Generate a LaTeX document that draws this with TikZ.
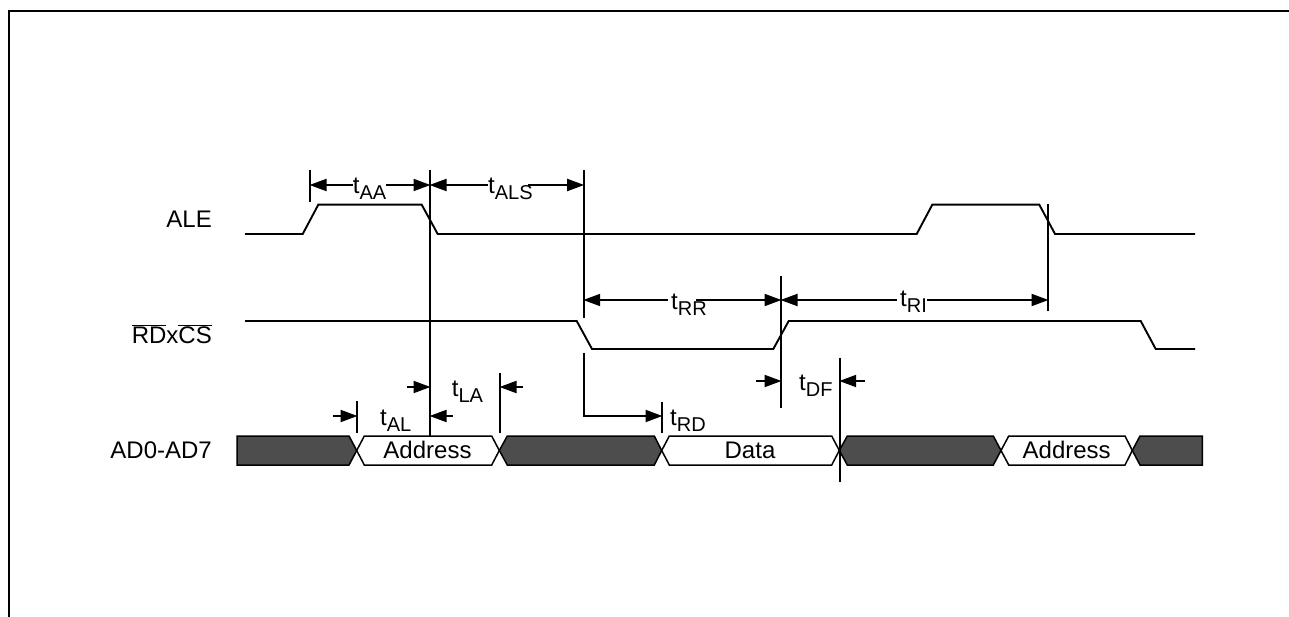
\documentclass[tikz,border=0pt]{standalone}
\usepackage{fontspec}
\setmainfont{Liberation Sans}
\usetikzlibrary{arrows.meta}
\definecolor{busdark}{RGB}{77, 77, 77}
\newcommand{\tsub}[1]{t\raisebox{-6pt}{\fontsize{20}{20}\selectfont #1}}
\tikzset{
    font=\fontsize{24}{24}\selectfont,
    signal/.style={line width=1.9pt, line join=miter},
    guide/.style={line width=2pt},
    arrow/.style={-{Triangle[length=17pt,width=12pt]}, line width=1.9pt, shorten >=-0.5pt},
    timing/.style={inner sep=0pt, anchor=base west},
    signame/.style={inner sep=0pt, anchor=base east},
    busname/.style={inner sep=0pt, anchor=base},
    busdata/.style={draw=black, fill=white, line width=1.5pt},
    businvalid/.style={draw=black, fill=busdark, line width=1.5pt}
}
\begin{document}
\begin{tikzpicture}[x=1pt, y=-1pt]
    \useasboundingbox (0,0) rectangle (1289,617);

    % frame
    \draw [line width=2.4pt] (9,617) -- (9,11) -- (1289,11);

    % signal names
    \node (ale)  [signame] at (212,228) {ALE};
    \node (rdcs) [signame] at (212,343) {$\overline{\mbox{RD}}$x$\overline{\mbox{CS}}$};
    \node (ad)   [signame] at (212,458) {AD0-AD7};

    % waveforms
    \draw [signal] (245,234) -- (302.7,234) -- (318.3,204.7) -- (421.7,204.7) -- (437.7,234)
        -- (916.7,234) -- (932.3,204.7) -- (1039.3,204.7) -- (1055,234) -- (1195,234);
    \draw [signal] (245,321) -- (576.7,321) -- (592,349) -- (773.3,349) -- (788.7,321)
        -- (1140.7,321) -- (1155.7,349) -- (1195,349);

    % bus
    \draw [businvalid] (237,436) -- (349,436) -- (356.7,450.5) -- (349,465) -- (237,465) -- cycle;
    \draw [busdata] (356.7,450.5) -- (364.3,436) -- (491.7,436) -- (499.3,450.5) -- (491.7,465) -- (364.3,465) -- cycle;
    \draw [businvalid] (499.3,450.5) -- (507.3,436) -- (654.3,436) -- (661.7,450.5) -- (654.3,465) -- (507.3,465) -- cycle;
    \draw [busdata] (661.7,450.5) -- (669.3,436) -- (831.7,436) -- (839.3,450.5) -- (831.7,465) -- (669.3,465) -- cycle;
    \draw [businvalid] (839.3,450.5) -- (847.3,436) -- (993.3,436) -- (1001,450.5) -- (993.3,465) -- (847.3,465) -- cycle;
    \draw [busdata] (1001,450.5) -- (1008.7,436) -- (1125,436) -- (1132.3,450.5) -- (1125,465) -- (1008.7,465) -- cycle;
    \draw [businvalid] (1132.3,450.5) -- (1140,436) -- (1202.3,436) -- (1202.3,465) -- (1140,465) -- cycle;

    \node (addr1) [busname] at (427.5,458) {Address};
    \node (data)  [busname] at (750,458) {Data};
    \node (addr2) [busname] at (1066.7,458) {Address};

    % guide lines
    \draw [guide] (310,170) -- (310,202);
    \draw [guide] (430,170) -- (430,436);
    \draw [guide] (583.7,170) -- (583.7,317.7);
    \draw [guide] (357,401) -- (357,432.7);
    \draw [guide] (500,372.7) -- (500,432.7);
    \draw [guide] (662,401.7) -- (662,432.7);
    \draw [guide] (781,276) -- (781,408.3);
    \draw [guide] (839.7,357.7) -- (839.7,482.3);
    \draw [guide] (1048,204) -- (1048,310.7);

    % timing labels
    \node (taa)  [timing] at (352.7,194) {\tsub{AA}};
    \node (tals) [timing] at (488,194) {\tsub{ALS}};
    \node (trr)  [timing] at (671,309.5) {\tsub{RR}};
    \node (tri)  [timing] at (900,306.7) {\tsub{RI}};
    \node (tdf)  [timing] at (799,390) {\tsub{DF}};
    \node (tla)  [timing] at (451.7,396) {\tsub{LA}};
    \node (tal)  [timing] at (380,425) {\tsub{AL}};
    \node (trd)  [timing] at (670,425) {\tsub{RD}};

    \coordinate (aaleft)   at (310,185);
    \coordinate (aaright)  at (430,185);
    \coordinate (alsright) at (583.7,185);
    \coordinate (rrleft)   at (583.7,300);
    \coordinate (rrright)  at (781,300);
    \coordinate (riright)  at (1048,300);
    \coordinate (dfleft)   at (781,381);
    \coordinate (dfright)  at (839.7,381);
    \coordinate (laleft)   at (430,387);
    \coordinate (laright)  at (500,387);
    \coordinate (alleft)   at (357,416);
    \coordinate (alright)  at (430,416);
    \coordinate (rdstart)  at (583.7,352.7);
    \coordinate (rdend)    at (662,416);

    % arrows
    \draw [arrow] (taa.west |- aaleft) -- (aaleft);
    \draw [arrow] (taa.east |- aaright) -- (aaright);
    \draw [arrow] (tals.west |- aaright) -- (aaright);
    \draw [arrow] ([xshift=-5pt]tals.east |- alsright) -- (alsright);
    \draw [arrow] ([xshift=-3pt]trr.west |- rrleft) -- (rrleft);
    \draw [arrow] ([xshift=-11pt]trr.east |- rrright) -- (rrright);
    \draw [arrow] ([xshift=-3pt]tri.west |- rrright) -- (rrright);
    \draw [arrow] (tri.east |- riright) -- (riright);
    \draw [arrow] (756,381) -- (dfleft);
    \draw [arrow] (865,381) -- (dfright);
    \draw [arrow] (406.7,387) -- (laleft);
    \draw [arrow] (523,387) -- (laright);
    \draw [arrow] (333,416) -- (alleft);
    \draw [arrow] (453,416) -- (alright);
    \draw [arrow] (rdstart) |- (rdend);
\end{tikzpicture}
\end{document}
